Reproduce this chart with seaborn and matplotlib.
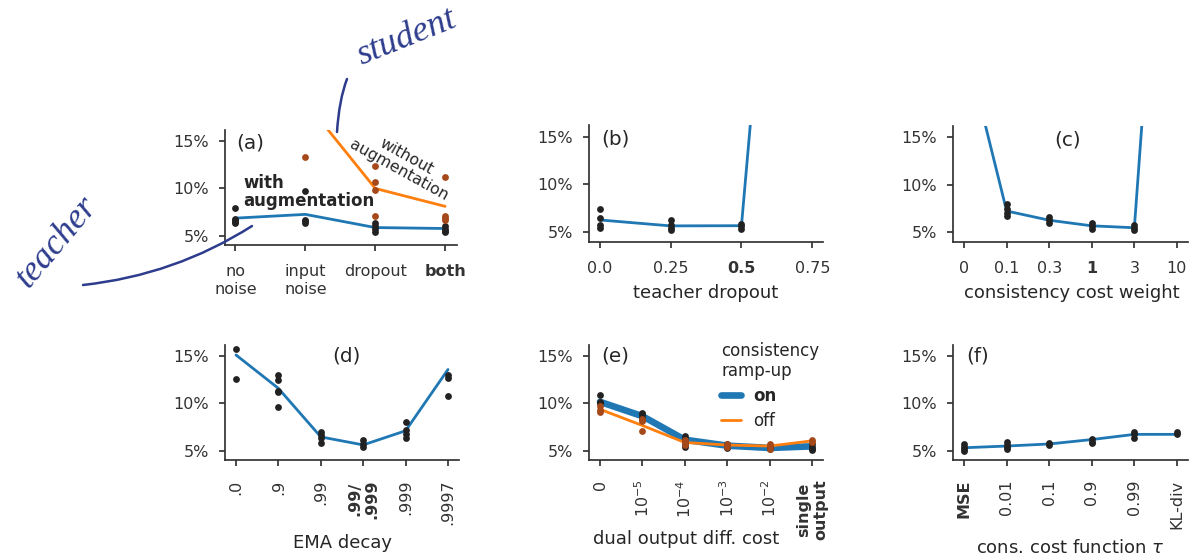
import numpy as np
import pandas as pd
import matplotlib
matplotlib.use('Agg')
import matplotlib.pyplot as plt
import seaborn as sns
from matplotlib.path import Path
from matplotlib.patches import PathPatch

# ---------------- data ----------------
# (a) noise type
a_labels = ['no\nnoise', 'input\nnoise', 'dropout', 'both']
a_with_mean = [6.85, 7.25, 5.85, 5.75]
a_with_runs = [[7.9, 6.8, 6.6, 6.4, 6.3], [9.75, 6.7, 6.5, 6.3],
               [6.3, 6.0, 5.7, 5.4], [6.0, 5.75, 5.5, 5.35]]
a_without_mean = [24.0, 19.2, 10.0, 8.1]
a_without_runs = [[], [13.35], [12.4, 10.65, 9.8, 7.1], [11.25, 7.1, 6.9, 6.7]]

# (b) teacher dropout
b_x = [0.0, 0.25, 0.5, 0.75]
b_labels = ['0.0', '0.25', '0.5', '0.75']
b_mean = [6.3, 5.68, 5.7, 90.0]
b_runs = [[7.45, 6.5, 5.8, 5.5], [6.3, 5.8, 5.45, 5.2], [5.9, 5.7, 5.4], []]

# (c) consistency cost weight
c_labels = ['0', '0.1', '0.3', '1', '3', '10']
c_mean = [25.3, 7.26, 6.29, 5.7, 5.5, 67.0]
c_runs = [[], [7.96, 7.5, 7.0, 6.75], [6.6, 6.35, 6.05], [6.0, 5.7, 5.35],
          [5.75, 5.5, 5.25], []]

# (d) EMA decay
d_labels = ['.0', '.9', '.99', '.99/\n.999', '.999', '.9997']
d_mean = [15.14, 11.6, 6.45, 5.6, 7.1, 13.6]
d_runs = [[15.8, 12.6], [13.0, 12.5, 11.35, 11.2, 9.6], [6.97, 6.6, 6.3, 5.8],
          [6.1, 5.75, 5.4], [8.0, 7.2, 6.8, 6.35], [13.07, 12.75, 10.75]]

# (e) dual output diff. cost
e_labels = ['0', '$10^{-5}$', '$10^{-4}$', '$10^{-3}$', '$10^{-2}$', 'single\noutput']
e_on_mean = [10.17, 8.65, 6.15, 5.52, 5.28, 5.45]
e_off_mean = [9.38, 7.66, 5.86, 5.59, 5.48, 6.03]
e_on_runs = [[10.9, 10.2, 10.05], [9.0, 8.85, 8.55, 8.2], [6.5, 6.28, 5.75, 5.4],
             [5.7, 5.4, 5.25], [5.4, 5.25, 5.15], [5.75, 5.4, 5.2, 5.07]]
e_off_runs = [[9.7, 9.35, 9.1], [8.35, 8.1, 7.07], [6.17, 5.93, 5.6],
              [5.7, 5.5, 5.35], [5.75, 5.5, 5.15], [6.1, 5.93]]

# (f) consistency cost function
f_labels = ['MSE', '0.01', '0.1', '0.9', '0.99', 'KL-div']
f_mean = [5.3, 5.48, 5.7, 6.17, 6.72, 6.72]
f_runs = [[5.7, 5.4, 5.15, 5.0], [5.86, 5.6, 5.35, 5.17], [5.8, 5.55],
          [6.28, 5.93, 5.76], [7.0, 6.72, 6.38], [7.0, 6.72]]

# ---------------- style ----------------
BLUE = '#1f77b4'
ORANGE = '#ff7f0e'
DOT = '#222222'
BROWN = '#a5481a'
NAVY = '#2d3c8c'

sns.set_theme(style='ticks')
plt.rcParams.update({
    'font.family': ['DejaVu Sans'],
    'xtick.labelsize': 11.5, 'ytick.labelsize': 11.5,
    'axes.labelsize': 13,
    'xtick.major.size': 4.5, 'ytick.major.size': 4.5,
    'xtick.major.width': 1.25, 'ytick.major.width': 1.25,
    'xtick.major.pad': 9.5, 'ytick.major.pad': 7,
    'axes.linewidth': 1.25,
    'axes.edgecolor': '.2', 'xtick.color': '.2', 'ytick.color': '.2',
    'text.color': '.15', 'axes.labelcolor': '.15',
})

fig = plt.figure(figsize=(11.9, 5.58), dpi=100)
W, H = 1190.0, 558.0


def add_ax(left, top, right, bottom):
    return fig.add_axes([left / W, 1 - bottom / H, (right - left) / W, (bottom - top) / H])


ax_a = add_ax(225, 130, 457, 245)
ax_b = add_ax(589, 125, 823, 242)
ax_c = add_ax(953, 126, 1188, 242)
ax_d = add_ax(225, 345, 459, 460)
ax_e = add_ax(589, 345, 823, 460)
ax_f = add_ax(953, 345, 1188, 460)


def runs_frame(xs, runs):
    return pd.DataFrame([(x, v) for x, r in zip(xs, runs) for v in r], columns=['x', 'err'])


def draw(ax, xs, mean, runs, line_color, dot_color, lw=2.0, label=None):
    sns.lineplot(x=list(xs), y=mean, color=line_color, linewidth=lw, ax=ax,
                 errorbar=None, sort=False, label=label, legend=False, zorder=2)
    df = runs_frame(xs, runs)
    sns.scatterplot(data=df, x='x', y='err', color=dot_color, s=24, linewidth=0,
                    ax=ax, zorder=4, legend=False)


def style(ax, ticks, labels, xlim, xlabel=None, rot=0, bold=None, lab_xy=None):
    ax.set_ylim(4.0, 16.2)
    ax.set_yticks([5, 10, 15])
    ax.set_yticklabels(['5%', '10%', '15%'])
    ax.set_xlim(*xlim)
    ax.set_xticks(ticks)
    ax.set_xticklabels(labels, rotation=rot)
    ax.set_ylabel('')
    ax.set_xlabel(xlabel if xlabel else '')
    if lab_xy is not None:
        ax.xaxis.label.set_va('center')
        ax.xaxis.set_label_coords(*lab_xy)
    if bold is not None:
        ax.get_xticklabels()[bold].set_fontweight('bold')
    sns.despine(ax=ax)


# (a)
pos4 = range(len(a_labels))
draw(ax_a, pos4, a_with_mean, a_with_runs, BLUE, DOT)
draw(ax_a, pos4, a_without_mean, a_without_runs, ORANGE, BROWN)
style(ax_a, list(pos4), a_labels, (-0.15, 3.17), bold=3)
ax_a.text(0.047, 0.887, '(a)', transform=ax_a.transAxes, fontsize=14.4, ha='left', va='center')
ax_a.text(0.078, 0.461, 'with\naugmentation', transform=ax_a.transAxes, fontsize=12,
          fontweight='bold', ha='left', va='center', linespacing=1.0)
ax_a.text(0.765, 0.71, 'without\naugmentation', transform=ax_a.transAxes, fontsize=11.3,
          rotation=-29, ha='center', va='center', multialignment='center', linespacing=1.0)

# (b)
draw(ax_b, b_x, b_mean, b_runs, BLUE, DOT)
style(ax_b, b_x, b_labels, (-0.0375, 0.7875), 'teacher dropout', bold=2, lab_xy=(0.5, -0.436))
ax_b.text(0.051, 0.88, '(b)', transform=ax_b.transAxes, fontsize=14.4, ha='left', va='center')

# (c)
pos6 = range(6)
draw(ax_c, pos6, c_mean, c_runs, BLUE, DOT)
style(ax_c, list(pos6), c_labels, (-0.26, 5.26), 'consistency cost weight', bold=3,
      lab_xy=(0.506, -0.436))
ax_c.text(0.489, 0.88, '(c)', transform=ax_c.transAxes, fontsize=14.4, ha='center', va='center')

# (d)
draw(ax_d, pos6, d_mean, d_runs, BLUE, DOT)
style(ax_d, list(pos6), d_labels, (-0.26, 5.26), 'EMA decay', rot=90, bold=3,
      lab_xy=(0.504, -0.72))
ax_d.text(0.52, 0.9, '(d)', transform=ax_d.transAxes, fontsize=14.4, ha='center', va='center')

# (e)
draw(ax_e, pos6, e_on_mean, e_on_runs, BLUE, DOT, lw=4.8, label='on')
draw(ax_e, pos6, e_off_mean, e_off_runs, ORANGE, BROWN, lw=2.0, label='off')
style(ax_e, list(pos6), e_labels, (-0.26, 5.26), 'dual output diff. cost', rot=90, bold=5,
      lab_xy=(0.415, -0.687))
ax_e.text(0.051, 0.9, '(e)', transform=ax_e.transAxes, fontsize=14.4, ha='left', va='center')
handles = [l for l in ax_e.get_lines() if l.get_label() in ('on', 'off')]
leg = ax_e.legend(handles=handles, labels=['on', 'off'], title='consistency\nramp-up',
                  frameon=False, loc='upper left', bbox_to_anchor=(0.565, 1.03),
                  borderpad=0, borderaxespad=0, handlelength=1.2, handletextpad=0.7,
                  fontsize=12, title_fontsize=12, labelspacing=0.4)
leg._legend_box.align = 'left'
leg.get_texts()[0].set_fontweight('bold')

# (f)
draw(ax_f, pos6, f_mean, f_runs, BLUE, DOT)
style(ax_f, list(pos6), f_labels, (-0.26, 5.26), r'cons. cost function $\tau$', rot=90, bold=0,
      lab_xy=(0.498, -0.765))
ax_f.text(0.055, 0.9, '(f)', transform=ax_f.transAxes, fontsize=14.4, ha='left', va='center')

# ---------------- handwritten annotations ----------------
ov = fig.add_axes([0, 0, 1, 1], zorder=10)
ov.set_xlim(0, W)
ov.set_ylim(H, 0)
ov.axis('off')
ov.patch.set_alpha(0)


def stroke(p0, c, p1):
    path = Path([p0, c, p1], [Path.MOVETO, Path.CURVE3, Path.CURVE3])
    ov.add_patch(PathPatch(path, fill=False, edgecolor=NAVY, linewidth=1.8, capstyle='round'))


stroke((83, 285), (175, 275), (252, 226))
stroke((347, 79), (339, 100), (337, 132))
ov.text(57, 242, 'teacher', rotation=50, fontsize=26, family='Liberation Serif',
        style='italic', color=NAVY, ha='center', va='center')
ov.text(407, 38, 'student', rotation=22, fontsize=26, family='Liberation Serif',
        style='italic', color=NAVY, ha='center', va='center')

fig.savefig('out.png', dpi=100)
